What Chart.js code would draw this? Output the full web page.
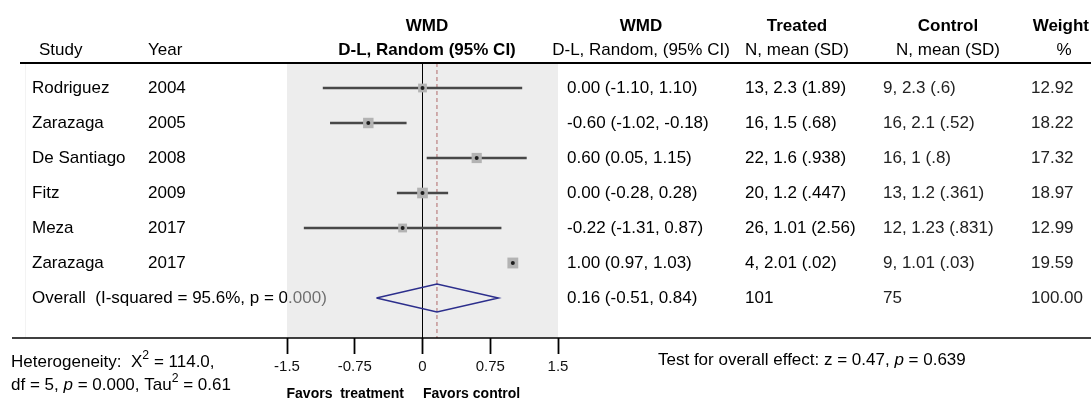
<!DOCTYPE html>
<html>
<head>
<meta charset="utf-8">
<script src="https://cdn.jsdelivr.net/npm/chart.js@4.4.1/dist/chart.umd.min.js"></script>
<style>
  html, body { margin: 0; padding: 0; background: #fff; }
</style>
</head>
<body>
<canvas id="forest" width="1091" height="401"></canvas>
<script>
"use strict";

// study rows
const studies = ['Rodriguez', 'Zarazaga', 'De Santiago', 'Fitz', 'Meza', 'Zarazaga'];
const years = ['2004', '2005', '2008', '2009', '2017', '2017'];
const wmd = [0.00, -0.60, 0.60, 0.00, -0.22, 1.00];
const ciLow = [-1.10, -1.02, 0.05, -0.28, -1.31, 0.97];
const ciHigh = [1.10, -0.18, 1.15, 0.28, 0.87, 1.03];
const treated = ['13, 2.3 (1.89)', '16, 1.5 (.68)', '22, 1.6 (.938)', '20, 1.2 (.447)', '26, 1.01 (2.56)', '4, 2.01 (.02)'];
const control = ['9, 2.3 (.6)', '16, 2.1 (.52)', '16, 1 (.8)', '13, 1.2 (.361)', '12, 1.23 (.831)', '9, 1.01 (.03)'];
const weights = [12.92, 18.22, 17.32, 18.97, 12.99, 19.59];

// pooled row
const overallLabel = 'Overall  (I-squared = 95.6%, p = 0.000)';
const overallWmd = 0.16;
const overallLow = -0.51;
const overallHigh = 0.84;
const overallTreated = '101';
const overallControl = '75';
const overallWeight = '100.00';

// axis
const tickValues = [-1.5, -0.75, 0, 0.75, 1.5];
const tickLabels = ['-1.5', '-0.75', '0', '0.75', '1.5'];

const FONT = '"Liberation Sans", Arial, Helvetica, sans-serif';
const overallRow = studies.length + 1;
const yMin = 2 / 7;
const yMax = yMin + 275 / 35;

const font = (size, bold, italic) =>
  (italic ? 'italic ' : '') + (bold ? 'bold ' : '') + size + 'px ' + FONT;

// draws a line of text made of several styled pieces
const drawRuns = (ctx, runs, x, y, align) => {
  let total = 0;
  runs.forEach(r => {
    const size = r.sup ? r.size * 0.72 : r.size;
    ctx.font = font(size, r.bold, r.italic);
    r.w = ctx.measureText(r.text).width;
    total += r.w;
  });
  let cx = align === 'center' ? x - total / 2 : (align === 'right' ? x - total : x);
  ctx.textAlign = 'left';
  ctx.textBaseline = 'middle';
  runs.forEach(r => {
    const size = r.sup ? r.size * 0.72 : r.size;
    ctx.font = font(size, r.bold, r.italic);
    ctx.fillStyle = r.color || '#000';
    ctx.fillText(r.text, cx, r.sup ? y - r.size * 0.38 : y);
    cx += r.w;
  });
};

const txt = (ctx, text, x, y, opts) => {
  const o = opts || {};
  drawRuns(ctx, [{ text: text, size: o.size || 17, bold: o.bold, color: o.color }], x, y, o.align);
};

const fmt = v => v.toFixed(2);

const forestTable = {
  id: 'forestTable',
  beforeDraw(chart) {
    const ctx = chart.ctx;
    const area = chart.chartArea;
    const yS = chart.scales.y;
    ctx.save();
    ctx.fillStyle = '#fff';
    ctx.fillRect(0, 0, chart.width, chart.height);

    ctx.fillStyle = '#f3f3f3';
    ctx.fillRect(25, area.top, 1, area.bottom - area.top);

    // headers
    txt(ctx, 'Study', 39, 50);
    txt(ctx, 'Year', 148, 50);
    txt(ctx, 'WMD', 427, 26, { bold: true, align: 'center' });
    txt(ctx, 'D-L, Random (95% CI)', 427, 50, { bold: true, align: 'center' });
    txt(ctx, 'WMD', 641, 26, { bold: true, align: 'center' });
    txt(ctx, 'D-L, Random, (95% CI)', 641, 50, { align: 'center' });
    txt(ctx, 'Treated', 797, 26, { bold: true, align: 'center' });
    txt(ctx, 'N, mean (SD)', 797, 50, { align: 'center' });
    txt(ctx, 'Control', 948, 26, { bold: true, align: 'center' });
    txt(ctx, 'N, mean (SD)', 948, 50, { align: 'center' });
    txt(ctx, 'Weight', 1089, 26, { bold: true, align: 'right' });
    txt(ctx, '%', 1064, 50, { align: 'center' });

    // study rows
    studies.forEach((s, i) => {
      const y = yS.getPixelForValue(i + 1);
      txt(ctx, s, 32, y);
      txt(ctx, years[i], 148, y);
      txt(ctx, fmt(wmd[i]) + ' (' + fmt(ciLow[i]) + ', ' + fmt(ciHigh[i]) + ')', 567, y);
      txt(ctx, treated[i], 745, y);
      txt(ctx, control[i], 883, y, { color: '#222' });
      txt(ctx, fmt(weights[i]), 1031, y, { color: '#222' });
    });

    const yo = yS.getPixelForValue(overallRow);
    txt(ctx, overallLabel, 32, yo);
    txt(ctx, fmt(overallWmd) + ' (' + fmt(overallLow) + ', ' + fmt(overallHigh) + ')', 567, yo);
    txt(ctx, overallTreated, 745, yo);
    txt(ctx, overallControl, 883, yo, { color: '#222' });
    txt(ctx, overallWeight, 1031, yo, { color: '#222' });

    // footer notes
    drawRuns(ctx, [
      { text: 'Heterogeneity:  X', size: 17 },
      { text: '2', size: 17, sup: true },
      { text: ' = 114.0,', size: 17 }
    ], 11, 362, 'left');
    drawRuns(ctx, [
      { text: 'df = 5, ', size: 17 },
      { text: 'p', size: 17, italic: true },
      { text: ' = 0.000, Tau', size: 17 },
      { text: '2', size: 17, sup: true },
      { text: ' = 0.61', size: 17 }
    ], 11, 385, 'left');
    drawRuns(ctx, [
      { text: 'Test for overall effect: z = 0.47, ', size: 17 },
      { text: 'p', size: 17, italic: true },
      { text: ' = 0.639', size: 17 }
    ], 658, 360, 'left');
    txt(ctx, 'Favors  treatment', 404, 394, { size: 14, bold: true, align: 'right' });
    txt(ctx, 'Favors control', 423, 394, { size: 14, bold: true });

    // shaded plot panel
    ctx.fillStyle = 'rgba(220,220,220,0.5)';
    ctx.fillRect(area.left, area.top, area.right - area.left, area.bottom - area.top);
    ctx.restore();
  },
  afterDraw(chart) {
    const ctx = chart.ctx;
    const area = chart.chartArea;
    ctx.save();
    ctx.strokeStyle = '#000';
    ctx.lineWidth = 2;
    ctx.beginPath();
    ctx.moveTo(20, area.top);
    ctx.lineTo(chart.width, area.top);
    ctx.stroke();
    ctx.lineWidth = 1.5;
    ctx.beginPath();
    ctx.moveTo(12, area.bottom);
    ctx.lineTo(chart.width, area.bottom);
    ctx.stroke();
    ctx.restore();
  }
};

const points = studies.map((s, i) => ({ x: wmd[i], y: i + 1 }));
const diamond = [
  { x: overallLow, y: overallRow },
  { x: overallWmd, y: overallRow - 0.4 },
  { x: overallHigh, y: overallRow },
  { x: overallWmd, y: overallRow + 0.4 },
  { x: overallLow, y: overallRow }
];

const ctx = document.getElementById('forest').getContext('2d');
const forestChart = new Chart(ctx, {
  type: 'scatter',
  data: {
    datasets: [
      {
        type: 'bar',
        indexAxis: 'y',
        data: studies.map((s, i) => ({ x: [ciLow[i], ciHigh[i]], y: i + 1 })),
        backgroundColor: '#484848',
        borderWidth: 0,
        barThickness: 1.6,
        order: 3
      },
      {
        data: points,
        pointStyle: 'rect',
        pointRadius: weights.map(w => 2.45 * Math.sqrt(w) / Math.SQRT2),
        backgroundColor: '#b3b3b3',
        borderWidth: 0,
        order: 2
      },
      {
        data: points,
        pointStyle: 'circle',
        pointRadius: 2,
        backgroundColor: '#1e1e1e',
        borderWidth: 0,
        order: 1
      },
      {
        data: diamond,
        showLine: true,
        borderColor: '#2c2e8c',
        borderWidth: 1.5,
        pointRadius: 0,
        order: 4
      },
      {
        data: [{ x: overallWmd, y: yMin }, { x: overallWmd, y: yMax }],
        showLine: true,
        borderColor: '#b06a6a',
        borderDash: [4, 3],
        borderWidth: 1,
        pointRadius: 0,
        order: 5
      }
    ]
  },
  options: {
    responsive: false,
    animation: false,
    events: [],
    layout: { padding: { left: 287, right: 533, top: 63, bottom: 0 } },
    plugins: { legend: { display: false }, tooltip: { enabled: false } },
    scales: {
      x: {
        type: 'linear',
        min: -1.5,
        max: 1.5,
        offset: false,
        afterBuildTicks: scale => { scale.ticks = tickValues.map(v => ({ value: v })); },
        afterFit: scale => { scale.height = 63; },
        ticks: {
          callback: (v, i) => tickLabels[i],
          font: { family: FONT, size: 15 },
          color: '#111',
          padding: 4,
          maxRotation: 0,
          autoSkip: false
        },
        grid: {
          offset: false,
          drawOnChartArea: true,
          color: c => (c.tick && c.tick.value === 0 ? '#000' : 'rgba(0,0,0,0)'),
          lineWidth: 1,
          tickColor: '#000',
          tickWidth: 1.8,
          tickLength: 16
        },
        border: { display: false }
      },
      y: {
        type: 'linear',
        min: yMin,
        max: yMax,
        offset: false,
        reverse: true,
        display: false
      }
    }
  },
  plugins: [forestTable]
});
</script>
</body>
</html>
